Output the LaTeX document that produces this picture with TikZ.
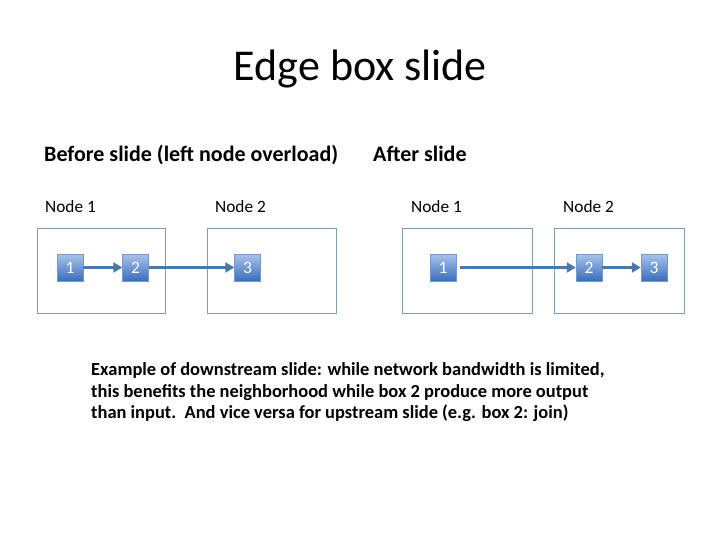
\documentclass[tikz,border=0pt]{standalone}
\usepackage{fontspec}
\setmainfont{Carlito}
\usetikzlibrary{arrows.meta}
\definecolor{frame}{HTML}{7F9DB9}
\definecolor{arrowc}{HTML}{4A78AE}
\definecolor{boxtop}{HTML}{A9C4EB}
\definecolor{boxbot}{HTML}{3A6DBB}
\tikzset{
  bignode/.style={draw=frame, line width=0.9pt},
  smallbox/.style={minimum width=26pt, minimum height=27pt, inner sep=0pt,
    top color=boxtop, bottom color=boxbot, draw=boxbot!70!white, line width=0.4pt,
    text=white, font=\fontsize{17.5}{17.5}\selectfont},
  flow/.style={draw=arrowc, line width=3pt, -{Triangle[length=9pt,width=10pt]}},
  nodelabel/.style={anchor=base west, inner sep=0pt, font=\fontsize{17.3}{19}\selectfont},
  heading/.style={anchor=base west, inner sep=0pt, font=\fontsize{22}{24}\selectfont\bfseries},
}
\begin{document}
\begin{tikzpicture}[x=1pt,y=-1pt]
\useasboundingbox (0,0) rectangle (720,540);
\node[inner sep=0pt, anchor=base, font=\fontsize{44}{48}\selectfont] (title) at (360.5,81) {Edge box slide};
\node[heading] (before) at (44,162) {Before slide (left node overload)};
\node[heading] (after) at (373,162) {After slide};
% left diagram
\node[nodelabel] (ln1) at (45,212) {Node 1};
\node[nodelabel] (ln2) at (215,213) {Node 2};
\draw[bignode] (37,228) rectangle (165,313);
\draw[bignode] (207,228) rectangle (336,313);
\node[smallbox] (l1) at (70,267.5) {1};
\node[smallbox] (l2) at (135.5,267.5) {2};
\node[smallbox] (l3) at (247.5,267.5) {3};
\draw[flow] (l1) -- (l2);
\draw[flow] (l2) -- (l3);
% right diagram
\node[nodelabel] (rn1) at (411,213) {Node 1};
\node[nodelabel] (rn2) at (563,213) {Node 2};
\draw[bignode] (402,228) rectangle (532,313);
\draw[bignode] (554,228) rectangle (684,313);
\node[smallbox] (r1) at (443,267.5) {1};
\node[smallbox] (r2) at (589,267.5) {2};
\node[smallbox] (r3) at (654,267.5) {3};
\draw[flow, shorten <=4pt] (r1) -- (r2);
\draw[flow] (r2) -- (r3);
% caption
\node[anchor=north west, inner sep=0pt, align=left, font=\fontsize{18.45}{21.6}\selectfont\bfseries] (cap) at (91,362.5)
{Example of downstream slide: while network bandwidth is limited,\\
this benefits the neighborhood while box 2 produce more output\\
than input.\ \ And vice versa for upstream slide (e.g. box 2: join)};
\end{tikzpicture}
\end{document}
